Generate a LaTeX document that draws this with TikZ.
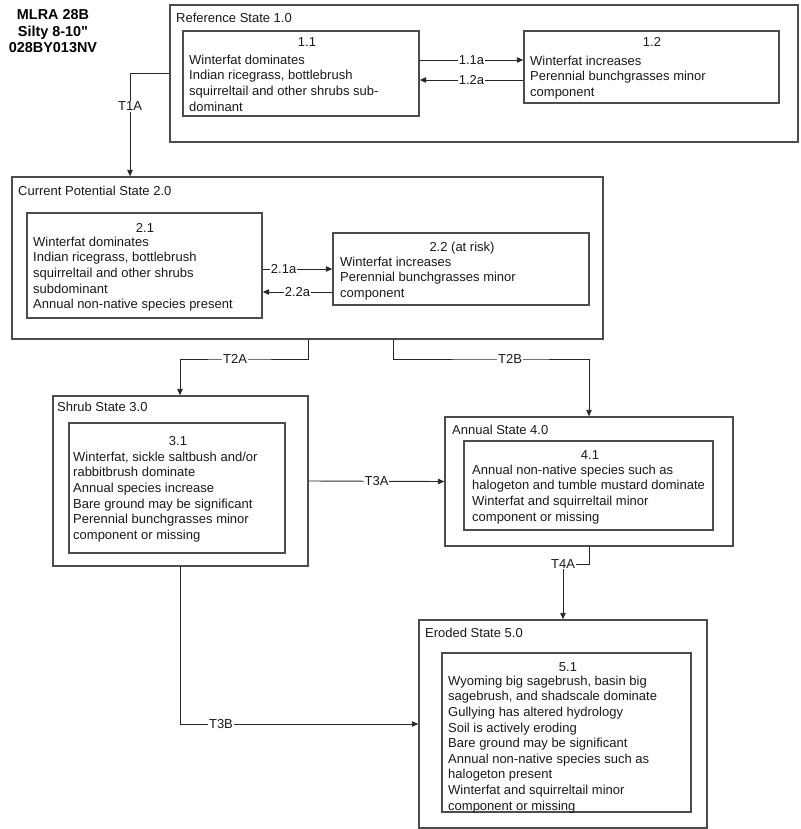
\documentclass[tikz,border=0pt]{standalone}
\usepackage{fontspec}
\setmainfont{Liberation Sans}[Ligatures=TeXOff]
\usetikzlibrary{arrows.meta}
\begin{document}
\begin{tikzpicture}[x=1pt,y=-1pt,
  box/.style={draw=black!70, line width=1.4pt, inner sep=0pt, fill=none},
  txt/.style={inner sep=0pt, anchor=base west, align=left, font=\fontsize{13}{15.6}\selectfont, text=black!90},
  bodytxt/.style={inner sep=0pt, anchor=north west, align=left, font=\fontsize{13}{15.6}\selectfont, text=black!90},
  numtxt/.style={inner sep=0pt, anchor=base, font=\fontsize{13}{15.6}\selectfont, text=black!90},
  conn/.style={draw=black!85, line width=0.9pt, -{Triangle[length=6.5pt,width=5.5pt]}},
  lbl/.style={fill=white, inner sep=1pt, font=\fontsize{13}{15.6}\selectfont, text=black!90}]
\useasboundingbox (0,0) rectangle (800,829);
% title
\node[inner sep=0pt, anchor=north, align=center, font=\bfseries\fontsize{14.4}{16.5}\selectfont] (title) at (53,9.7) {MLRA 28B\\Silty 8-10"\\028BY013NV};
% boxes
\node[box, minimum width=628, minimum height=137] (S1) at (484,73.5) {};
\node[box, minimum width=236, minimum height=85] (s11) at (301,73.5) {};
\node[box, minimum width=255, minimum height=72] (s12) at (651.5,67) {};
\node[box, minimum width=591, minimum height=162] (S2) at (307.5,258) {};
\node[box, minimum width=235, minimum height=105] (s21) at (144.5,265.5) {};
\node[box, minimum width=256, minimum height=72] (s22) at (461,269) {};
\node[box, minimum width=255, minimum height=170] (S3) at (180.5,481) {};
\node[box, minimum width=216, minimum height=130] (s31) at (177,488) {};
\node[box, minimum width=288, minimum height=129] (S4) at (589,481.5) {};
\node[box, minimum width=249, minimum height=89] (s41) at (588.5,485.5) {};
\node[box, minimum width=288, minimum height=208] (S5) at (563,724) {};
\node[box, minimum width=249, minimum height=159] (s51) at (566.5,732.5) {};
% state titles
\node[txt] (t1) at (176,23) {Reference State 1.0};
\node[txt] (t2) at (18,196) {Current Potential State 2.0};
\node[txt] (t3) at (57,411) {Shrub State 3.0};
\node[txt] (t4) at (452,434) {Annual State 4.0};
\node[txt] (t5) at (425,637) {Eroded State 5.0};
% community numbers
\node[numtxt] (n11) at (307,47) {1.1};
\node[numtxt] (n12) at (652,47) {1.2};
\node[numtxt] (n21) at (145,232) {2.1};
\node[numtxt] (n22) at (462,251) {2.2 (at risk)};
\node[numtxt] (n31) at (178,445) {3.1};
\node[numtxt] (n41) at (590,459) {4.1};
\node[numtxt] (n51) at (568,671) {5.1};
% community texts
\node[bodytxt] (b11) at (189,54.7) {Winterfat dominates\\Indian ricegrass, bottlebrush\\squirreltail and other shrubs sub-\\dominant};
\node[bodytxt] (b12) at (530,55.7) {Winterfat increases\\Perennial bunchgrasses minor\\component};
\node[bodytxt] (b21) at (33,236.7) {Winterfat dominates\\Indian ricegrass, bottlebrush\\squirreltail and other shrubs\\subdominant\\Annual non-native species present};
\node[bodytxt] (b22) at (340,256.7) {Winterfat increases\\Perennial bunchgrasses minor\\component};
\node[bodytxt] (b31) at (73,451.7) {Winterfat, sickle saltbush and/or\\rabbitbrush dominate\\Annual species increase\\Bare ground may be significant\\Perennial bunchgrasses minor\\component or missing};
\node[bodytxt] (b41) at (472,464.7) {Annual non-native species such as\\halogeton and tumble mustard dominate\\Winterfat and squirreltail minor\\component or missing};
\node[bodytxt] (b51) at (448,675.7) {Wyoming big sagebrush, basin big\\sagebrush, and shadscale dominate\\Gullying has altered hydrology\\Soil is actively eroding\\Bare ground may be significant\\Annual non-native species such as\\halogeton present\\Winterfat and squirreltail minor\\component or missing};
% connectors
\draw[conn] (s11.east |- 0,60) -- node[lbl] (l11a) {1.1a} (s12.west |- 0,60);
\draw[conn] (s12.west |- 0,80) -- node[lbl] (l12a) {1.2a} (s11.east |- 0,80);
\draw[conn] (S1.west) -| node[lbl, pos=0.66] (lT1A) {T1A} (S2.north -| 130,0);
\draw[conn] (s21.east |- 0,269) -- node[lbl, pos=0.3] (l21a) {2.1a} (s22.west |- 0,269);
\draw[conn] (s22.west |- 0,292) -- node[lbl] (l22a) {2.2a} (s21.east |- 0,292);
\draw[conn] (S2.south -| 308,0) |- (235,359) node[lbl] (lT2A) {T2A} -| (S3.north -| 180,0);
\draw[conn] (S2.south -| 393,0) |- (510,359) node[lbl] (lT2B) {T2B} -| (S4.north -| 589,0);
\draw[conn] (S3.east) -- node[lbl] (lT3A) {T3A} (S4.west);
\draw[conn] (S4.south -| 589,0) |- (563,564) node[lbl] (lT4A) {T4A} -- (S5.north -| 563,0);
\draw[conn] (S3.south -| 180,0) |- node[lbl, pos=0.586] (lT3B) {T3B} (S5.west);
\end{tikzpicture}
\end{document}
